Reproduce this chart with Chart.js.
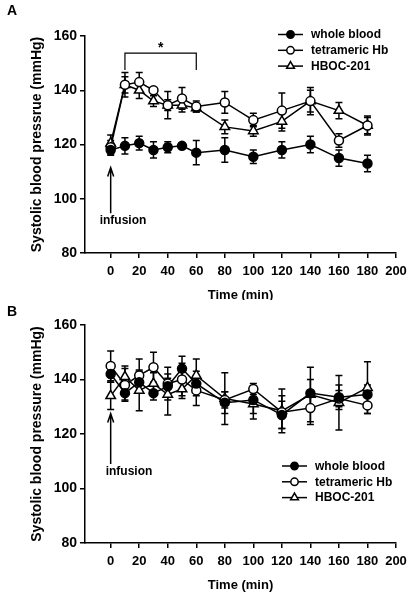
<!DOCTYPE html>
<html>
<head>
<meta charset="utf-8">
<script src="https://cdn.jsdelivr.net/npm/chart.js@4"></script>
<style>
body { margin: 0; background: #fff; }
#wrap { position: relative; width: 415px; height: 599px; }
#wrap canvas { position: absolute; left: 0; }
</style>
</head>
<body>
<div id="wrap">
  <canvas id="chartA" width="415" height="300" style="top:0"></canvas>
  <canvas id="chartB" width="415" height="299" style="top:300px"></canvas>
</div>
<script>
// time points (min) and axis ticks
const times = [0, 10, 20, 30, 40, 50, 60, 80, 100, 120, 140, 160, 180];
const xTicks = [0, 20, 40, 60, 80, 100, 120, 140, 160, 180, 200];
const yTicks = [80, 100, 120, 140, 160];
const seriesNames = ["whole blood", "tetrameric Hb", "HBOC-201"];

// Panel A
const wholeBloodA = [118, 119.5, 120.5, 118, 119, 119.5, 117, 118, 115.5, 118, 120, 115, 113];
const wholeBloodAErr = [2, 3, 2.5, 3, 2, 1, 4.5, 4.5, 2.5, 3, 3, 3, 3];
const tetraA = [119, 142, 143, 140, 134.5, 137, 134, 135.5, 129, 132.5, 136, 121.5, 127];
const tetraAErr = [2.5, 3, 3.5, 0.8, 5, 4, 2, 4, 2.5, 6.5, 5, 2.5, 3.5];
const hbocA = [120.5, 142, 140, 136, 134.5, 134.5, 133.5, 126.5, 125, 128.5, 136, 132.5, 127];
const hbocAErr = [3, 4.5, 3, 2, 2, 2.5, 1.5, 2.5, 2, 3.5, 4, 3, 3];

// Panel B
const wholeBloodB = [142, 135, 139, 135, 137.5, 144, 138.5, 131.5, 132.5, 127, 135, 133.5, 134.5];
const wholeBloodBErr = [3, 2.5, 4, 2.5, 3, 4.5, 4.5, 4, 5, 5, 5, 4.5, 3.5];
const tetraB = [145, 138, 141.5, 144.5, 138.5, 140, 136, 132.5, 136.5, 128, 129.5, 133, 130.5];
const tetraBErr = [5.5, 6, 6, 5.5, 6, 6, 5.5, 3, 2, 6, 6, 3, 3];
const hbocB = [134, 141, 136, 138.5, 134.5, 136.5, 141.5, 133, 131, 128.5, 134.5, 131.5, 137];
const hbocBErr = [5, 4, 7.5, 4, 7.5, 3.5, 6, 9.5, 5.5, 8, 10, 10, 9.5];

// significance bracket in panel A (min)
const bracketA = [10, 60];

const FONT = "'Liberation Sans', Arial, sans-serif";

function makeDatasets(wb, wbErr, tt, ttErr, hb, hbErr) {
    const base = { borderColor: "#000", borderWidth: 1.5, pointBorderColor: "#000", pointBorderWidth: 1.5, tension: 0 };
    return [
        Object.assign({ label: seriesNames[0], data: times.map((t, i) => ({ x: t, y: wb[i] })), errors: wbErr,
            pointStyle: "circle", pointRadius: 4.5, pointBackgroundColor: "#000" }, base),
        Object.assign({ label: seriesNames[1], data: times.map((t, i) => ({ x: t, y: tt[i] })), errors: ttErr,
            pointStyle: "circle", pointRadius: 4.5, pointBackgroundColor: "#fff" }, base),
        Object.assign({ label: seriesNames[2], data: times.map((t, i) => ({ x: t, y: hb[i] })), errors: hbErr,
            pointStyle: "triangle", pointRadius: 5.5, pointBackgroundColor: "#fff" }, base)
    ];
}

// error bars, drawn under the markers
const errorBars = {
    id: "errorBars",
    beforeDatasetsDraw(chart) {
        const ctx = chart.ctx;
        const ys = chart.scales.y;
        ctx.save();
        ctx.strokeStyle = "#000";
        ctx.lineWidth = 1.5;
        chart.data.datasets.forEach((ds, di) => {
            const meta = chart.getDatasetMeta(di);
            meta.data.forEach((pt, i) => {
                const v = ds.data[i].y, e = ds.errors[i];
                const top = ys.getPixelForValue(v + e);
                const bot = ys.getPixelForValue(v - e);
                ctx.beginPath();
                ctx.moveTo(pt.x, top); ctx.lineTo(pt.x, bot);
                ctx.moveTo(pt.x - 3.5, top); ctx.lineTo(pt.x + 3.5, top);
                ctx.moveTo(pt.x - 3.5, bot); ctx.lineTo(pt.x + 3.5, bot);
                ctx.stroke();
            });
        });
        ctx.restore();
    }
};

function drawMarker(ctx, style, fill, x, y, r) {
    ctx.beginPath();
    if (style === "triangle") {
        let rad = 0;
        ctx.moveTo(x + Math.sin(rad) * r, y - Math.cos(rad) * r);
        rad += 2 * Math.PI / 3;
        ctx.lineTo(x + Math.sin(rad) * r, y - Math.cos(rad) * r);
        rad += 2 * Math.PI / 3;
        ctx.lineTo(x + Math.sin(rad) * r, y - Math.cos(rad) * r);
        ctx.closePath();
    } else {
        ctx.arc(x, y, r, 0, Math.PI * 2);
    }
    ctx.fillStyle = fill;
    ctx.fill();
    ctx.stroke();
}

// panel letter, legend, arrow, bracket
function extras(opts) {
    return {
        id: "extras",
        afterDraw(chart) {
            const ctx = chart.ctx;
            const xs = chart.scales.x, ys = chart.scales.y;
            ctx.save();
            ctx.fillStyle = "#000";
            ctx.strokeStyle = "#000";
            ctx.lineWidth = 1.5;
            ctx.textBaseline = "middle";

            ctx.font = "bold 14px " + FONT;
            ctx.textAlign = "left";
            ctx.fillText(opts.letter, 7, opts.letterY);

            // legend
            ctx.font = "bold 12px " + FONT;
            chart.data.datasets.forEach((ds, i) => {
                const y = opts.legY + i * 15.8;
                ctx.beginPath();
                ctx.moveTo(opts.legX, y); ctx.lineTo(opts.legX + 25, y);
                ctx.stroke();
                drawMarker(ctx, ds.pointStyle, ds.pointBackgroundColor, opts.legX + 12.5, y,
                    ds.pointStyle === "triangle" ? 4.5 : 3.7);
                ctx.fillStyle = "#000";
                ctx.fillText(ds.label, opts.legX + 33, y + 0.5);
            });

            // infusion arrow
            const ax = xs.getPixelForValue(0);
            const a0 = ys.getPixelForValue(opts.arrow[0]);
            const a1 = ys.getPixelForValue(opts.arrow[1]);
            ctx.beginPath();
            ctx.moveTo(ax, a0); ctx.lineTo(ax, a1);
            ctx.moveTo(ax - 3, a1 + 9); ctx.lineTo(ax, a1); ctx.lineTo(ax + 3, a1 + 9);
            ctx.stroke();
            ctx.fillText("infusion", ax + opts.infDx, a0 + 8);

            if (opts.bracket) {
                const b0 = xs.getPixelForValue(opts.bracket[0]);
                const b1 = xs.getPixelForValue(opts.bracket[1]);
                const by = ys.getPixelForValue(153.7);
                const bl = ys.getPixelForValue(147.5);
                ctx.lineWidth = 1.2;
                ctx.beginPath();
                ctx.moveTo(b0, bl); ctx.lineTo(b0, by); ctx.lineTo(b1, by); ctx.lineTo(b1, bl);
                ctx.stroke();
                ctx.font = "bold 14px " + FONT;
                ctx.textAlign = "center";
                ctx.fillText("*", (b0 + b1) / 2, by - 5);
            }
            ctx.restore();
        }
    };
}

function makeChart(id, datasets, yTitle, layoutPad, xHeight, xTitlePad, opts) {
    const tickFont = { family: FONT, weight: "bold" };
    new Chart(document.getElementById(id).getContext("2d"), {
        type: "line",
        data: { datasets: datasets },
        options: {
            responsive: false,
            animation: false,
            layout: { padding: layoutPad },
            plugins: { legend: { display: false }, tooltip: { enabled: false } },
            scales: {
                x: {
                    type: "linear",
                    min: -18, max: 200,
                    afterBuildTicks: s => { s.ticks = xTicks.map(v => ({ value: v })); },
                    afterFit: s => { s.height = xHeight; },
                    grid: { drawOnChartArea: false, drawTicks: true, tickLength: 5, color: "#000", lineWidth: 1.5 },
                    border: { display: true, color: "#000", width: 1.5 },
                    ticks: { color: "#000", font: Object.assign({ size: 13 }, tickFont), padding: 6, maxRotation: 0 },
                    title: { display: true, text: "Time (min)", color: "#000",
                        font: { family: FONT, size: 13, weight: "bold", lineHeight: 1.2 }, padding: { top: 0, bottom: xTitlePad } }
                },
                y: {
                    min: 80, max: 160,
                    afterBuildTicks: s => { s.ticks = yTicks.map(v => ({ value: v })); },
                    afterFit: s => { s.width = 59; },
                    grid: { drawOnChartArea: false, drawTicks: true, tickLength: 5, color: "#000", lineWidth: 1.5 },
                    border: { display: true, color: "#000", width: 1.5 },
                    ticks: { color: "#000", font: Object.assign({ size: 14 }, tickFont), padding: 3 },
                    title: { display: true, text: yTitle, color: "#000",
                        font: { family: FONT, size: 14, weight: "bold", lineHeight: 1.2 }, padding: { top: 3, bottom: 0 } }
                }
            }
        },
        plugins: [errorBars, extras(opts)]
    });
}

makeChart("chartA",
    makeDatasets(wholeBloodA, wholeBloodAErr, tetraA, tetraAErr, hbocA, hbocAErr),
    "Systolic blood pressrue (mmHg)",
    { left: 26, top: 36, right: 19, bottom: 0 }, 47, -2.8,
    { letter: "A", letterY: 11, legX: 278, legY: 34.5, arrow: [94.7, 111.5], infDx: -11, bracket: bracketA });

makeChart("chartB",
    makeDatasets(wholeBloodB, wholeBloodBErr, tetraB, tetraBErr, hbocB, hbocBErr),
    "Systolic blood pressure (mmHg)",
    { left: 26, top: 25, right: 19, bottom: 0 }, 56, 6.2,
    { letter: "B", letterY: 12, legX: 282, legY: 166, arrow: [109, 127.5], infDx: -5, bracket: null });
</script>
</body>
</html>
